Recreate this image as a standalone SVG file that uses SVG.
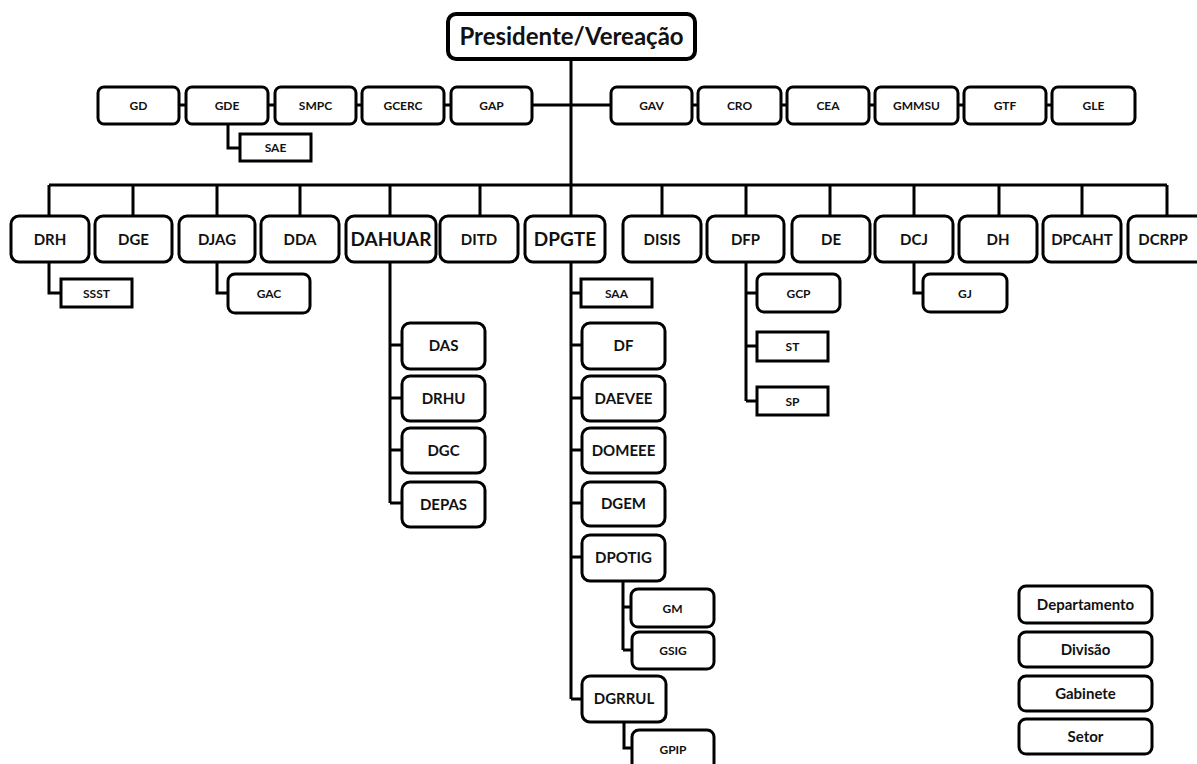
<svg xmlns="http://www.w3.org/2000/svg" width="1197" height="764" viewBox="0 0 1197 764">
<style>
.b{fill:#fff;stroke:#000;stroke-width:3}
.p{fill:#fff;stroke:#000;stroke-width:4}
.c{fill:none;stroke:#000;stroke-width:3}
text{font-family:Lato,"Open Sans","Liberation Sans",sans-serif;font-weight:bold;fill:#111;text-anchor:middle}
.t24{font-size:24px}.t19{font-size:19px}.t15{font-size:15px}.t12{font-size:12px}
</style>
<rect width="1197" height="764" fill="#fff"/>
<g id="connectors">
<path class="c" d="M571 60V216M532 105H611M179 105H186M268 105H275M356 105H362M444 105H451M692 105H698M781 105H787M869 105H875M958 105H964M1046 105H1052"/>
<path class="c" d="M228 124V148H240"/>
<path class="c" d="M49 185H1167M49 185V216M133 185V216M217 185V216M300 185V216M390 185V216M480 185V216M662 185V216M746 185V216M830 185V216M914 185V216M999 185V216M1082 185V216M1167 185V216"/>
<path class="c" d="M49 262V293H61M217 262V293H228"/>
<path class="c" d="M390 262V503M390 345H402M390 398H402M390 450H402M390 503H402"/>
<path class="c" d="M571 262V699M571 293H581M571 345H582M571 398H582M571 450H582M571 503H582M571 557H582M571 699H582"/>
<path class="c" d="M623 581V650M623 607H631M623 650H632M624 722V748H632"/>
<path class="c" d="M746 262V401M746 293H757M746 346H757M746 401H757M914 262V293H923"/>
</g>
<g id="presidente"><rect class="p" x="448" y="14" width="247" height="45" rx="8"/><text class="t24" x="571.5" y="45">Presidente/Vereação</text></g>
<g id="GD"><rect class="b" x="98" y="87" width="81" height="37" rx="6"/><text class="t12" x="138.5" y="110">GD</text></g>
<g id="GDE"><rect class="b" x="186" y="87" width="82" height="37" rx="6"/><text class="t12" x="227" y="110">GDE</text></g>
<g id="SMPC"><rect class="b" x="275" y="87" width="81" height="37" rx="6"/><text class="t12" x="315.5" y="110">SMPC</text></g>
<g id="GCERC"><rect class="b" x="362" y="87" width="82" height="37" rx="6"/><text class="t12" x="403" y="110">GCERC</text></g>
<g id="GAP"><rect class="b" x="451" y="87" width="81" height="37" rx="6"/><text class="t12" x="491.5" y="110">GAP</text></g>
<g id="GAV"><rect class="b" x="611" y="87" width="81" height="37" rx="6"/><text class="t12" x="651.5" y="110">GAV</text></g>
<g id="CRO"><rect class="b" x="698" y="87" width="83" height="37" rx="6"/><text class="t12" x="739.5" y="110">CRO</text></g>
<g id="CEA"><rect class="b" x="787" y="87" width="82" height="37" rx="6"/><text class="t12" x="828" y="110">CEA</text></g>
<g id="GMMSU"><rect class="b" x="875" y="87" width="83" height="37" rx="6"/><text class="t12" x="916.5" y="110">GMMSU</text></g>
<g id="GTF"><rect class="b" x="964" y="87" width="82" height="37" rx="6"/><text class="t12" x="1005" y="110">GTF</text></g>
<g id="GLE"><rect class="b" x="1052" y="87" width="83" height="37" rx="6"/><text class="t12" x="1093.5" y="110">GLE</text></g>
<g id="SAE"><rect class="b" x="240" y="134" width="71" height="27"/><text class="t12" x="275.5" y="152">SAE</text></g>
<g id="DRH"><rect class="b" x="11" y="216" width="78" height="46" rx="8"/><text class="t15" x="50" y="244.5">DRH</text></g>
<g id="DGE"><rect class="b" x="95" y="216" width="77" height="46" rx="8"/><text class="t15" x="133.5" y="244.5">DGE</text></g>
<g id="DJAG"><rect class="b" x="179" y="216" width="76" height="46" rx="8"/><text class="t15" x="217" y="244.5">DJAG</text></g>
<g id="DDA"><rect class="b" x="261" y="216" width="78" height="46" rx="8"/><text class="t15" x="300" y="244.5">DDA</text></g>
<g id="DAHUAR"><rect class="b" x="346" y="216" width="90" height="46" rx="8"/><text class="t19" x="391" y="246">DAHUAR</text></g>
<g id="DITD"><rect class="b" x="440" y="216" width="78" height="46" rx="8"/><text class="t15" x="479" y="244.5">DITD</text></g>
<g id="DPGTE"><rect class="b" x="525" y="216" width="80" height="46" rx="8"/><text class="t19" x="565" y="246">DPGTE</text></g>
<g id="DISIS"><rect class="b" x="623" y="216" width="78" height="46" rx="8"/><text class="t15" x="662" y="244.5">DISIS</text></g>
<g id="DFP"><rect class="b" x="707" y="216" width="77" height="46" rx="8"/><text class="t15" x="745.5" y="244.5">DFP</text></g>
<g id="DE"><rect class="b" x="792" y="216" width="78" height="46" rx="8"/><text class="t15" x="831" y="244.5">DE</text></g>
<g id="DCJ"><rect class="b" x="875" y="216" width="78" height="46" rx="8"/><text class="t15" x="914" y="244.5">DCJ</text></g>
<g id="DH"><rect class="b" x="959" y="216" width="78" height="46" rx="8"/><text class="t15" x="998" y="244.5">DH</text></g>
<g id="DPCAHT"><rect class="b" x="1043" y="216" width="78" height="46" rx="8"/><text class="t15" x="1082" y="244.5">DPCAHT</text></g>
<g id="DCRPP"><rect class="b" x="1128" y="216" width="78" height="46" rx="8"/><text class="t15" x="1163" y="244.5">DCRPP</text></g>
<g id="SSST"><rect class="b" x="61" y="279" width="71" height="28"/><text class="t12" x="96.5" y="297.5">SSST</text></g>
<g id="GAC"><rect class="b" x="228" y="274" width="82" height="39" rx="7"/><text class="t12" x="269" y="298">GAC</text></g>
<g id="SAA"><rect class="b" x="581" y="279" width="71" height="28"/><text class="t12" x="616.5" y="297.5">SAA</text></g>
<g id="GCP"><rect class="b" x="757" y="274" width="83" height="38" rx="7"/><text class="t12" x="798.5" y="297.5">GCP</text></g>
<g id="GJ"><rect class="b" x="923" y="274" width="84" height="38" rx="7"/><text class="t12" x="965" y="297.5">GJ</text></g>
<g id="ST"><rect class="b" x="757" y="332" width="71" height="29"/><text class="t12" x="792.5" y="351">ST</text></g>
<g id="SP"><rect class="b" x="757" y="387" width="71" height="28"/><text class="t12" x="792.5" y="405.5">SP</text></g>
<g id="DAS"><rect class="b" x="402" y="323" width="83" height="46" rx="8"/><text class="t15" x="443.5" y="351">DAS</text></g>
<g id="DRHU"><rect class="b" x="402" y="376" width="83" height="45" rx="8"/><text class="t15" x="443.5" y="403.5">DRHU</text></g>
<g id="DGC"><rect class="b" x="402" y="428" width="83" height="45" rx="8"/><text class="t15" x="443.5" y="455.5">DGC</text></g>
<g id="DEPAS"><rect class="b" x="402" y="482" width="83" height="45" rx="8"/><text class="t15" x="443.5" y="509.5">DEPAS</text></g>
<g id="DF"><rect class="b" x="582" y="323" width="83" height="46" rx="8"/><text class="t15" x="623.5" y="351">DF</text></g>
<g id="DAEVEE"><rect class="b" x="582" y="376" width="83" height="45" rx="8"/><text class="t15" x="623.5" y="403.5">DAEVEE</text></g>
<g id="DOMEEE"><rect class="b" x="582" y="428" width="83" height="45" rx="8"/><text class="t15" x="623.5" y="455.5">DOMEEE</text></g>
<g id="DGEM"><rect class="b" x="582" y="482" width="83" height="44" rx="8"/><text class="t15" x="623.5" y="509">DGEM</text></g>
<g id="DPOTIG"><rect class="b" x="582" y="535" width="83" height="46" rx="8"/><text class="t15" x="623.5" y="563">DPOTIG</text></g>
<g id="GM"><rect class="b" x="631" y="589" width="83" height="38" rx="7"/><text class="t12" x="672.5" y="612.5">GM</text></g>
<g id="GSIG"><rect class="b" x="632" y="632" width="82" height="37" rx="7"/><text class="t12" x="673" y="655">GSIG</text></g>
<g id="DGRRUL"><rect class="b" x="582" y="676" width="84" height="46" rx="8"/><text class="t15" x="624" y="704">DGRRUL</text></g>
<g id="GPIP"><rect class="b" x="632" y="730" width="82" height="46" rx="7"/><text class="t12" x="673" y="754">GPIP</text></g>
<g id="legend">
<rect class="b" x="1019" y="586" width="133" height="37" rx="7"/><text class="t15" x="1085.5" y="609.5">Departamento</text>
<rect class="b" x="1019" y="632" width="133" height="35" rx="7"/><text class="t15" x="1085.5" y="654.5">Divisão</text>
<rect class="b" x="1019" y="676" width="133" height="35" rx="7"/><text class="t15" x="1085.5" y="698.5">Gabinete</text>
<rect class="b" x="1019" y="719" width="133" height="35" rx="7"/><text class="t15" x="1085.5" y="741.5">Setor</text>
</g>
</svg>
